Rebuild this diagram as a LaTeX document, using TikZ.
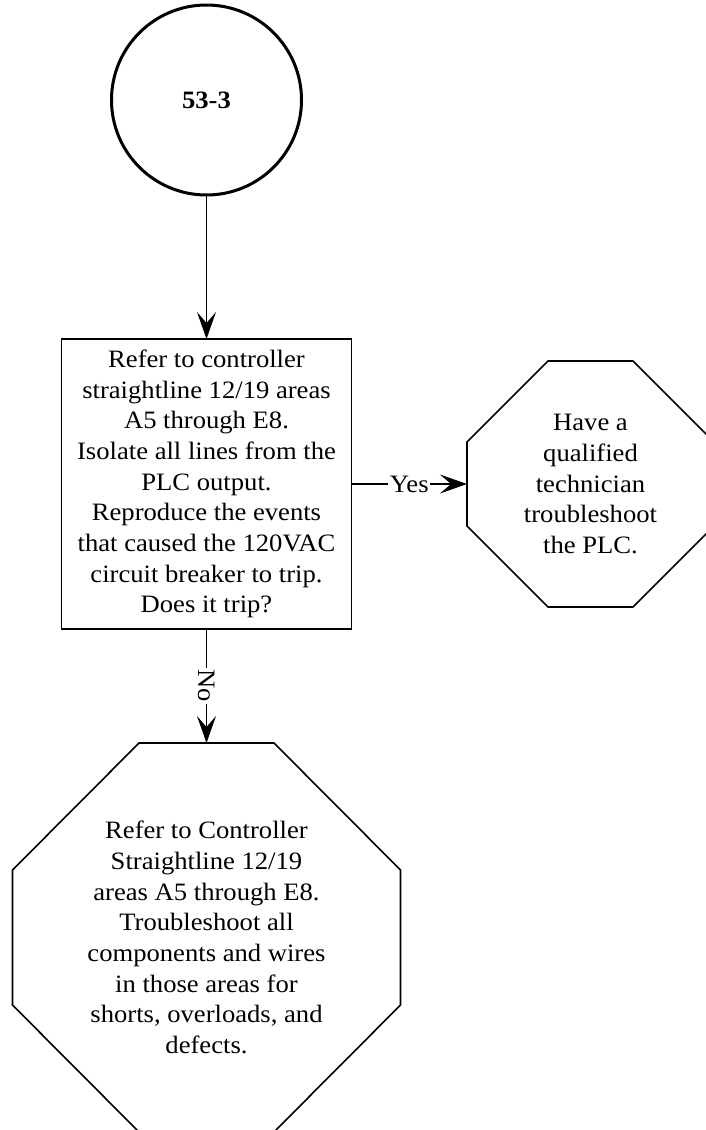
\documentclass[tikz,border=0pt]{standalone}
\usepackage{fontspec}
\setmainfont[FakeStretch=1.065]{Liberation Serif}
\usetikzlibrary{arrows.meta}
\begin{document}
\begin{tikzpicture}[x=1pt,y=-1pt,
  txt/.style={align=center, font=\fontsize{25}{30.7}\selectfont, inner sep=0pt, outer sep=0pt},
  startcirc/.style={circle, draw, line width=3pt, minimum size=190pt, inner sep=0pt, outer sep=0pt,
    font=\fontsize{25}{30}\selectfont\bfseries},
  stepbox/.style={txt, draw, line width=1.6pt, minimum width=290pt, minimum height=290pt},
  octbox/.style={txt, draw=none},
  octline/.style={line width=1.6pt, line join=miter},
  link/.style={line width=1.6pt, -{Stealth[length=27pt, width=19pt, inset=11pt]}},
  lab/.style={fill=white, inner sep=1.5pt, font=\fontsize{25}{28}\selectfont}
]
\useasboundingbox (0,0) rectangle (706,1130);

% start connector
\node[startcirc] (start) at (206.5,100) {53-3};

% decision box
\node[stepbox] (q) at (206.5,484) {Refer to controller\\straightline 12/19 areas\\A5 through E8.\\Isolate all lines from the\\PLC output.\\Reproduce the events\\that caused the 120VAC\\circuit breaker to trip.\\Does it trip?};

% outcome: yes
\node[octbox, minimum width=247pt, minimum height=246pt] (yes) at (590.5,484) {Have a\\qualified\\technician\\troubleshoot\\the PLC.};
\draw[octline] ([xshift=81]yes.north west) -- ([xshift=-81]yes.north east)
  -- ([yshift=-81]yes.north east) -- ([yshift=81]yes.south east)
  -- ([xshift=-81]yes.south east) -- ([xshift=81]yes.south west)
  -- ([yshift=81]yes.south west) -- ([yshift=-81]yes.north west) -- cycle;

% outcome: no
\node[octbox, minimum width=388pt, minimum height=389pt] (no) at (206.5,937.5) {Refer to Controller\\Straightline 12/19\\areas A5 through E8.\\Troubleshoot all\\components and wires\\in those areas for\\shorts, overloads, and\\defects.};
\draw[octline] ([xshift=126.5]no.north west) -- ([xshift=-126.5]no.north east)
  -- ([yshift=-127]no.north east) -- ([yshift=127]no.south east)
  -- ([xshift=-126.5]no.south east) -- ([xshift=126.5]no.south west)
  -- ([yshift=127]no.south west) -- ([yshift=-127]no.north west) -- cycle;

% connectors
\draw[link] (start) -- (q);
\draw[link] (q.east) -- node[lab] {Yes} (yes.west);
\draw[link] (q.south) -- node[lab, rotate=-90] {No} (no.north);
\end{tikzpicture}
\end{document}
